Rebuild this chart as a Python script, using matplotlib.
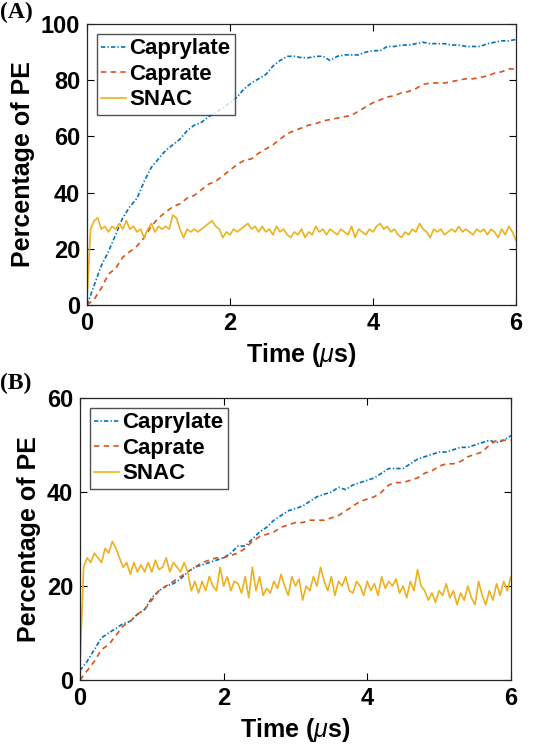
import numpy as np
import matplotlib
matplotlib.use('Agg')
import matplotlib.pyplot as plt

# ---- data ----
t_coarse = np.round(np.arange(0, 6.0001, 0.1), 2)
t_fine = np.round(np.arange(0, 6.0001, 0.05), 2)

caprylate_a = [0, 7, 14, 19, 25, 31, 35, 38, 44, 49,
               52, 55, 57, 59, 62, 64, 65, 67, 68.5, 70,
               72, 74, 77, 79, 80.5, 82, 85, 87, 88.5, 88.5,
               88, 88, 88.5, 88.5, 87, 88.5, 89, 89, 89, 90,
               90.5, 90.5, 92, 92, 92.5, 92.5, 93, 93.5, 93, 93,
               93, 92.5, 92.5, 92, 92, 92, 93, 93.5, 94, 94, 94.5]
caprate_a = [0, 2, 6, 11, 13, 17, 19, 21, 24, 28,
             31, 33, 35, 36, 38, 39, 41, 43, 44, 46,
             48, 50, 51.5, 52, 54, 55.5, 57, 59, 61, 62,
             63, 64, 64.5, 65.5, 66, 66.5, 67, 67.5, 69, 70.5,
             72, 73, 74, 74.5, 75.5, 76, 77, 78.5, 79, 79,
             79, 79.5, 80, 80.5, 80.5, 81, 81.5, 82.5, 83, 84, 84]
snac_a = [2, 27, 30, 31, 27, 28, 26, 28, 27, 29,
          27, 30, 27, 28, 26, 27, 24, 27, 29, 26,
          28, 27, 28, 27, 32, 31, 27, 24, 27, 26,
          27, 26, 27, 28, 29, 30, 28, 27, 24, 26,
          25, 27, 26, 27, 28, 29, 27, 28, 26, 28,
          26, 27, 25, 28, 26, 27, 25, 24, 26, 25,
          27, 24, 26, 25, 28, 26, 27, 25, 27, 26,
          25, 27, 26, 25, 28, 24, 27, 26, 25, 27,
          26, 28, 29, 27, 28, 26, 27, 25, 24, 26,
          25, 27, 26, 29, 27, 26, 24, 27, 26, 27,
          25, 26, 27, 26, 28, 26, 27, 26, 25, 27,
          26, 27, 25, 27, 26, 24, 27, 25, 28, 26, 23]

caprylate_b = [2, 4, 6.5, 9, 10, 11, 12, 12.5, 14, 15,
               17.5, 19, 20, 20.5, 21.5, 23, 24, 24.5, 25, 25.5,
               26, 27, 28.5, 28.5, 30, 31.5, 32.5, 34, 35, 36,
               36.5, 37, 38, 39, 39.5, 40, 41, 40.5, 41.5, 42,
               42.5, 43, 44, 45, 45, 45, 46, 47, 47.5, 48,
               48.5, 48.5, 49, 49.5, 49.5, 50, 50.5, 51, 50.5, 51, 52]
caprate_b = [0, 2, 4, 6.5, 7.5, 9.5, 11.5, 12.5, 14, 15,
             17, 19, 20, 21, 22, 23, 24, 25, 25.5, 26,
             26, 26.5, 27, 28, 29.5, 30.5, 31, 31.5, 32.5, 33,
             33.5, 33.5, 34, 34, 34, 34.5, 35, 36, 37, 38,
             38.5, 39, 40, 41.5, 42, 42, 42.5, 43, 44, 44.5,
             45.5, 46, 46, 46.5, 47.5, 48, 48.5, 50, 51, 51, 51]
snac_b = [3, 24, 26, 25, 27, 26, 25, 28, 27, 29.5,
          28, 26, 24, 25, 22.5, 25, 23, 24.5, 23, 25,
          23, 25.5, 23.5, 24, 26, 23, 25, 24, 23, 25,
          23, 19, 21, 18.5, 21, 19, 22, 20, 19, 24,
          20, 22, 19, 21, 20.5, 18.5, 22, 17.5, 24, 19,
          22, 18, 19.5, 18.5, 21, 19.5, 22.5, 20, 18, 22,
          20, 21.5, 17, 20, 19, 22, 20, 24, 21, 19,
          22, 18, 21, 20, 22, 19, 18.5, 21, 20, 18,
          21, 19, 20.5, 18, 22, 19.5, 21, 20, 21.5, 18.5,
          20, 17.5, 21, 19, 23.5, 20, 19, 17, 18.5, 16.5,
          19, 18, 20.5, 17.5, 19, 16, 18.5, 17, 20, 17.5,
          16, 21, 18, 16, 19, 17, 20.5, 18, 21, 19, 22]

labels = ['Caprylate', 'Caprate', 'SNAC']
colors = ['#0072BD', '#D95319', '#EDB120']
# MATLAB-like dash-dot, dashed, solid
styles = [(0, (2.6, 1.3, 0.8, 1.3)), (0, (3.2, 2.6)), '-']

plt.rcParams['font.family'] = ['Liberation Sans', 'DejaVu Sans']
plt.rcParams['mathtext.fontset'] = 'custom'
plt.rcParams['mathtext.it'] = 'Liberation Sans:italic'

fig = plt.figure(figsize=(5.42, 7.45), dpi=100)
ax_a = fig.add_axes([0.1605, 0.5906, 0.7915, 0.3772])
ax_b = fig.add_axes([0.1476, 0.0872, 0.795, 0.3786])

panels = [
    (ax_a, [caprylate_a, caprate_a, snac_a], 100, 20, '(A)', 0.997),
    (ax_b, [caprylate_b, caprate_b, snac_b], 60, 20, '(B)', 0.499),
]

for ax, series, ymax, ystep, tag, tag_y in panels:
    xs = [t_coarse, t_coarse, t_fine]
    for x, y, lab, c, ls in zip(xs, series, labels, colors, styles):
        ax.plot(x, y, linestyle=ls, color=c, lw=1.2, label=lab)
    ax.set_xlim(0, 6)
    ax.set_ylim(0, ymax)
    ax.set_xticks([0, 2, 4, 6])
    ax.set_yticks(np.arange(0, ymax + 1, ystep))
    ax.tick_params(direction='in', top=True, right=True, length=5,
                   width=0.8, labelsize=17, pad=5)
    for lbl in ax.get_xticklabels() + ax.get_yticklabels():
        lbl.set_fontweight('bold')
    for sp in ax.spines.values():
        sp.set_linewidth(0.9)
        sp.set_color('#262626')
    ax.set_xlabel(r'Time ($\mu$s)', fontsize=18, fontweight='bold', labelpad=4)
    ax.set_ylabel('Percentage of PE', fontsize=18, fontweight='bold', labelpad=4)
    leg = ax.legend(loc='upper left', frameon=True, fancybox=False,
                    edgecolor='#262626', handlelength=1.1, handletextpad=0.15,
                    borderpad=0.2, labelspacing=0.2, borderaxespad=0.45,
                    prop={'weight': 'bold', 'size': 16})
    leg.get_frame().set_linewidth(1.0)
    fig.text(0.0, tag_y, tag, fontsize=17, fontweight='bold',
             family='Liberation Serif', ha='left', va='top')

fig.savefig('out.png', dpi=100)
